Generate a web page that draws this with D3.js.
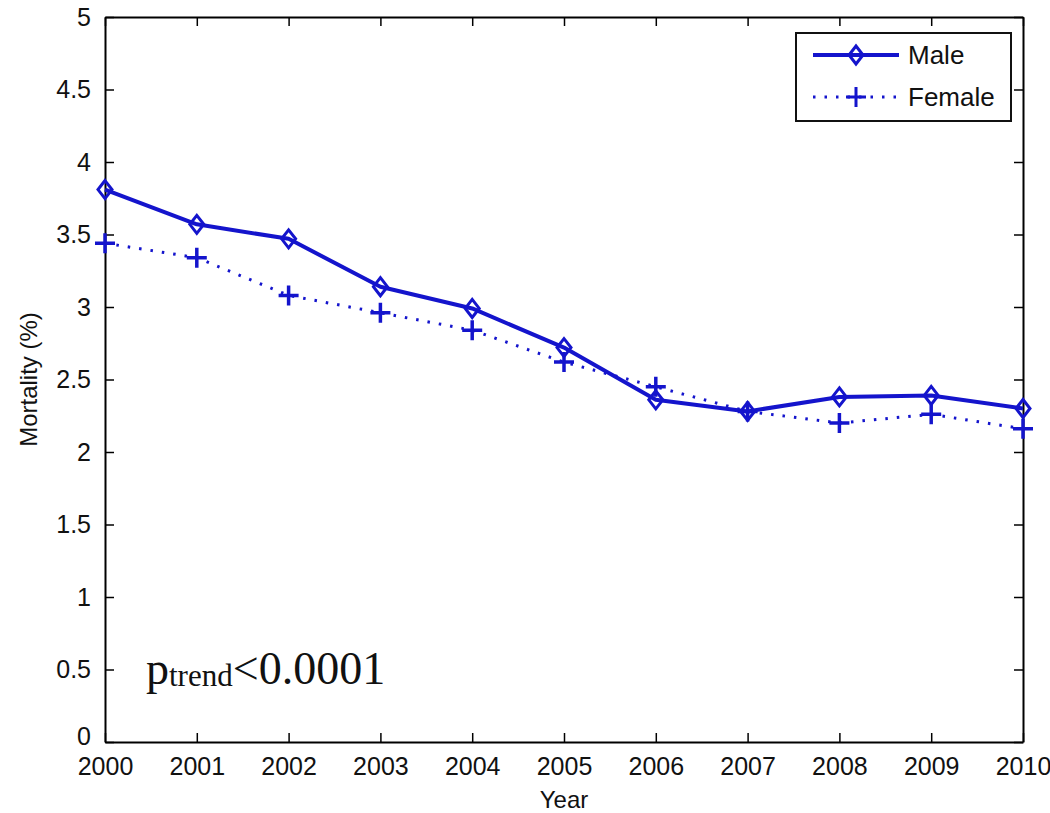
<!DOCTYPE html>
<html>
<head>
<meta charset="utf-8">
<script src="https://cdn.jsdelivr.net/npm/d3@7"></script>
<style>
  body { margin: 0; background: #fff; }
  svg text { font-family: "Liberation Sans", Arial, sans-serif; }
  svg text.serif { font-family: "Liberation Serif", "Times New Roman", serif; }
</style>
</head>
<body>
<svg id="chart" width="1050" height="813"></svg>
<script>
// values
const years = [2000, 2001, 2002, 2003, 2004, 2005, 2006, 2007, 2008, 2009, 2010];
const male = [3.81, 3.57, 3.47, 3.14, 2.99, 2.72, 2.36, 2.28, 2.38, 2.39, 2.30];
const female = [3.44, 3.34, 3.08, 2.96, 2.84, 2.62, 2.45, 2.28, 2.20, 2.26, 2.16];
const yTicks = [0, 0.5, 1, 1.5, 2, 2.5, 3, 3.5, 4, 4.5, 5];
const seriesNames = ['Male', 'Female'];

const blue = '#1414cc';
const svg = d3.select('#chart');
const L = 105, R = 1023, T = 17, B = 742;

const x = d3.scaleLinear().domain([2000, 2010]).range([L, R]);
const y = d3.scaleLinear().domain([0, 5]).range([B, T]);

// axes with inward ticks (MATLAB box style)
const tk = 9;
const fmtY = d => String(d);
svg.append('g').attr('transform', `translate(0,${B})`)
  .call(d3.axisBottom(x).tickValues(years).tickFormat(d3.format('d')).tickSizeInner(-tk).tickSizeOuter(0).tickPadding(15))
  .call(g => g.select('.domain').attr('stroke-width', 2));
svg.append('g').attr('transform', `translate(0,${T})`)
  .call(d3.axisTop(x).tickValues(years).tickFormat('').tickSizeInner(-tk).tickSizeOuter(0))
  .call(g => g.select('.domain').attr('stroke-width', 2));
const yAx = svg.append('g').attr('transform', `translate(${L},0)`)
  .call(d3.axisLeft(y).tickValues(yTicks).tickFormat(fmtY).tickSizeInner(-tk).tickSizeOuter(0).tickPadding(14))
  .call(g => g.select('.domain').attr('stroke-width', 2));
svg.append('g').attr('transform', `translate(${R},0)`)
  .call(d3.axisRight(y).tickValues(yTicks).tickFormat('').tickSizeInner(-tk).tickSizeOuter(0))
  .call(g => g.select('.domain').attr('stroke-width', 2));

svg.selectAll('.tick line').attr('stroke-width', 1.5);
svg.selectAll('.tick text').attr('font-size', 25).attr('fill', '#111');
// lift the "0" a little so it clears the "2000" below it
yAx.selectAll('.tick text').filter(d => d === 0).attr('dy', '0.1em');

// axis titles
svg.append('text').attr('x', (L + R) / 2).attr('y', 808).attr('text-anchor', 'middle')
  .attr('font-size', 24).attr('fill', '#111').text('Year');
svg.append('text').attr('transform', `translate(37,${(T + B) / 2}) rotate(-90)`)
  .attr('text-anchor', 'middle').attr('font-size', 24).attr('fill', '#111').text('Mortality (%)');

// lines
const line = d3.line().x((d, i) => x(years[i])).y(d => y(d));
svg.append('path').datum(female).attr('d', line).attr('fill', 'none')
  .attr('stroke', blue).attr('stroke-width', 3).attr('stroke-dasharray', '2.5 9');
svg.append('path').datum(male).attr('d', line).attr('fill', 'none')
  .attr('stroke', blue).attr('stroke-width', 4).attr('stroke-linejoin', 'round');

// markers
const diamond = 'M0,-9 L7,0 L0,9 L-7,0 Z';
const plus = 'M-10,0 L10,0 M0,-10 L0,10';
svg.append('g').selectAll('path').data(female).join('path')
  .attr('transform', (d, i) => `translate(${x(years[i])},${y(d)})`)
  .attr('d', plus).attr('stroke', blue).attr('stroke-width', 3.5).attr('fill', 'none');
svg.append('g').selectAll('path').data(male).join('path')
  .attr('transform', (d, i) => `translate(${x(years[i])},${y(d)})`)
  .attr('d', diamond).attr('stroke', blue).attr('stroke-width', 3).attr('fill', 'none');

// legend
const lg = svg.append('g');
lg.append('rect').attr('x', 796).attr('y', 33).attr('width', 215).attr('height', 88)
  .attr('fill', '#fff').attr('stroke', '#111').attr('stroke-width', 2);
const rows = [
  { name: seriesNames[0], y: 55, dash: null, w: 4, mark: diamond },
  { name: seriesNames[1], y: 97, dash: '2.5 9', w: 3, mark: plus }
];
rows.forEach(r => {
  lg.append('line').attr('x1', 813).attr('x2', 899).attr('y1', r.y).attr('y2', r.y)
    .attr('stroke', blue).attr('stroke-width', r.w).attr('stroke-dasharray', r.dash);
  lg.append('path').attr('transform', `translate(856,${r.y})`).attr('d', r.mark)
    .attr('stroke', blue).attr('stroke-width', 3).attr('fill', 'none');
  lg.append('text').attr('x', 908).attr('y', r.y + 9).attr('font-size', 26)
    .attr('fill', '#111').text(r.name);
});

// p-trend annotation
const pt = svg.append('text').attr('class', 'serif').attr('x', 146).attr('y', 684).attr('fill', '#111');
pt.append('tspan').attr('font-size', 46).text('p');
pt.append('tspan').attr('font-size', 31).attr('dy', 2).text('trend');
pt.append('tspan').attr('font-size', 46).attr('dy', -2).text('<0.0001');
</script>
</body>
</html>
